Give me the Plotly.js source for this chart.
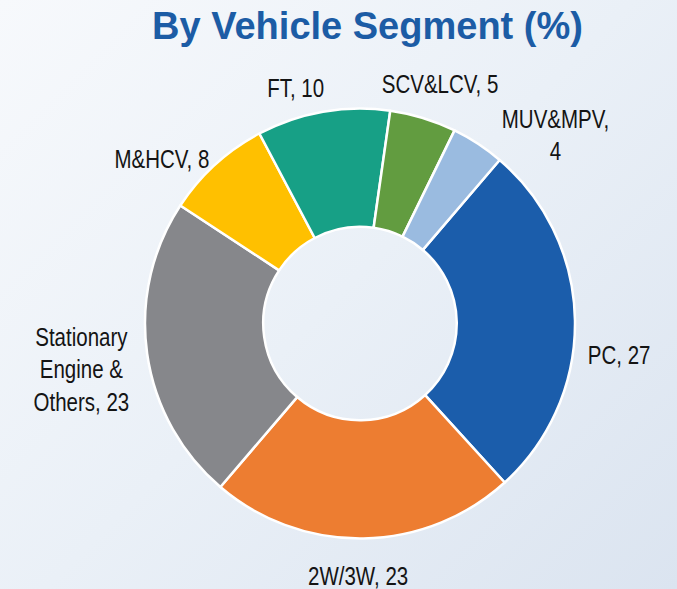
<!DOCTYPE html>
<html>
<head>
<meta charset="utf-8">
<script src="https://cdn.plot.ly/plotly-3.0.1.min.js"></script>
<style>
  html, body { margin: 0; padding: 0; }
  body { width: 677px; height: 589px; background: linear-gradient(135deg, #f7f9fc 0%, #eaf0f7 50%, #dbe4f0 100%); }
  #chart { width: 677px; height: 589px; }
</style>
</head>
<body>
<div id="chart"></div>
<script>
// Data
const segments = ["PC", "2W/3W", "Stationary Engine & Others", "M&HCV", "FT", "SCV&LCV", "MUV&MPV"];
const shares = [27, 23, 23, 8, 10, 5, 4];
const labelTexts = ["PC, 27", "2W/3W, 23", "Stationary<br>Engine &<br>Others, 23", "M&HCV, 8", "FT, 10", "SCV&LCV, 5", "MUV&MPV,<br>4"];
const sliceColors = ["#1B5DAB", "#ED7D31", "#86878B", "#FFC000", "#17A086", "#629C40", "#9ABBE0"];

// Label placement (pixels in the 677x589 page)
const labelPx = [[619, 355], [358, 576], [81, 369], [162, 159], [295, 88], [440, 84], [555, 136]];

const W = 677, H = 589;
const labelFont = {family: "Liberation Sans, Arial, sans-serif", size: 25, color: "#141414"};

const annotations = labelTexts.map((t, i) => ({
  text: t,
  x: labelPx[i][0] / W,
  y: 1 - labelPx[i][1] / H,
  xref: "paper", yref: "paper",
  xanchor: "center", yanchor: "middle",
  showarrow: false,
  align: "center",
  font: labelFont
}));

const trace = {
  type: "pie",
  labels: segments,
  values: shares,
  sort: false,
  direction: "clockwise",
  rotation: 40.5,
  hole: 0.45,
  textinfo: "none",
  hoverinfo: "label+value",
  marker: {colors: sliceColors, line: {color: "#ffffff", width: 2.5}},
  domain: {x: [145 / W, 575 / W], y: [1 - 539 / H, 1 - 108 / H]},
  showlegend: false
};

const layout = {
  width: W, height: H,
  margin: {l: 0, r: 0, t: 0, b: 0},
  paper_bgcolor: "rgba(0,0,0,0)",
  plot_bgcolor: "rgba(0,0,0,0)",
  showlegend: false,
  title: {
    text: "<b>By Vehicle Segment (%)</b>",
    x: 367.5 / W, xanchor: "center", xref: "paper",
    y: 1 - 26 / H, yanchor: "middle", yref: "container",
    font: {family: "Liberation Sans, Arial, sans-serif", size: 38, color: "#1C5CA5"}
  },
  annotations: annotations
};

// Narrow the label text horizontally to mimic the condensed face of the original
function condenseLabels(gd) {
  const groups = gd.querySelectorAll(".annotation .annotation-text-g");
  groups.forEach(g => {
    const bb = g.getBBox();
    const cx = bb.x + bb.width / 2;
    const prev = g.getAttribute("transform") || "";
    g.setAttribute("transform", prev + " translate(" + cx + ",0) scale(0.82,1) translate(" + (-cx) + ",0)");
  });
}

Plotly.newPlot("chart", [trace], layout, {displayModeBar: false, staticPlot: true}).then(condenseLabels);
</script>
</body>
</html>
